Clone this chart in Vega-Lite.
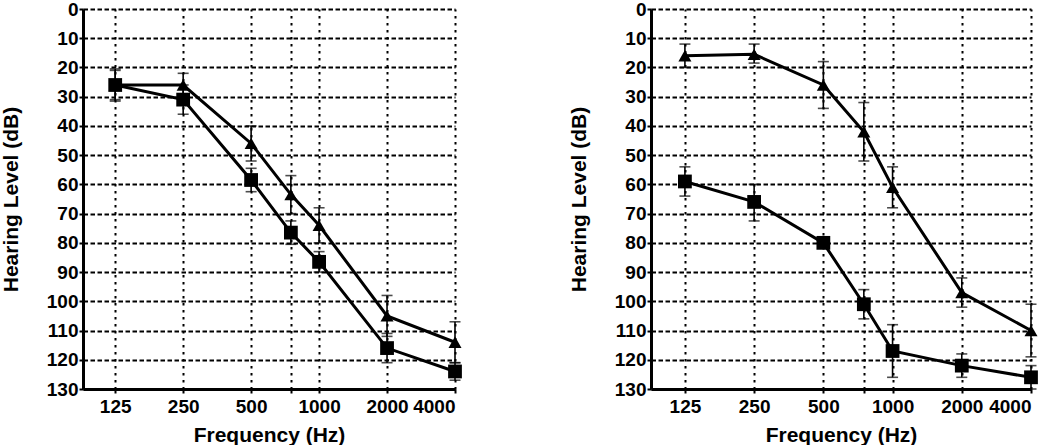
{
  "$schema": "https://vega.github.io/schema/vega-lite/v6.json",
  "padding": {"left": 0, "top": 0, "right": 0, "bottom": 0},
  "background": "white",
  "datasets": {
    "left": [
      {"series": "sq", "freq": 125, "hl": 26, "lo": 21, "hi": 31},
      {"series": "sq", "freq": 250, "hl": 31, "lo": 26, "hi": 36},
      {"series": "sq", "freq": 500, "hl": 58.5, "lo": 54.5, "hi": 62.5},
      {"series": "sq", "freq": 750, "hl": 76.5, "lo": 72.5, "hi": 80.5},
      {"series": "sq", "freq": 1000, "hl": 86.5, "lo": 83, "hi": 90},
      {"series": "sq", "freq": 2000, "hl": 116, "lo": 111, "hi": 121},
      {"series": "sq", "freq": 4000, "hl": 124, "lo": 121, "hi": 127},
      {"series": "tri", "freq": 125, "hl": 26, "lo": 20.5, "hi": 31.5},
      {"series": "tri", "freq": 250, "hl": 26, "lo": 22, "hi": 31},
      {"series": "tri", "freq": 500, "hl": 46, "lo": 40, "hi": 52},
      {"series": "tri", "freq": 750, "hl": 63.5, "lo": 57, "hi": 70},
      {"series": "tri", "freq": 1000, "hl": 74, "lo": 68, "hi": 80},
      {"series": "tri", "freq": 2000, "hl": 105, "lo": 98, "hi": 112},
      {"series": "tri", "freq": 4000, "hl": 114, "lo": 107, "hi": 121}
    ],
    "right": [
      {"series": "tri", "freq": 125, "hl": 16, "lo": 12, "hi": 20},
      {"series": "tri", "freq": 250, "hl": 15.5, "lo": 12, "hi": 18.5},
      {"series": "tri", "freq": 500, "hl": 26, "lo": 18, "hi": 34},
      {"series": "tri", "freq": 750, "hl": 42, "lo": 32, "hi": 52},
      {"series": "tri", "freq": 1000, "hl": 61, "lo": 54, "hi": 68},
      {"series": "tri", "freq": 2000, "hl": 97, "lo": 92, "hi": 102},
      {"series": "tri", "freq": 4000, "hl": 110, "lo": 101, "hi": 119},
      {"series": "sq", "freq": 125, "hl": 59, "lo": 54, "hi": 64},
      {"series": "sq", "freq": 250, "hl": 66, "lo": 60, "hi": 72.5},
      {"series": "sq", "freq": 500, "hl": 80, "lo": 79, "hi": 81},
      {"series": "sq", "freq": 750, "hl": 101, "lo": 96, "hi": 106},
      {"series": "sq", "freq": 1000, "hl": 117, "lo": 108, "hi": 126},
      {"series": "sq", "freq": 2000, "hl": 122, "lo": 118, "hi": 126},
      {"series": "sq", "freq": 4000, "hl": 126, "lo": 122, "hi": 130}
    ]
  },
  "config": {
    "view": {"stroke": null},
    "font": "Liberation Sans",
    "axis": {
      "labelFont": "Liberation Sans", "labelFontSize": 19, "labelFontWeight": "bold", "labelColor": "black",
      "titleFont": "Liberation Sans", "titleFontSize": 21, "titleFontWeight": "bold", "titleColor": "black",
      "domainColor": "black", "domainWidth": 3, "tickColor": "black", "tickWidth": 2, "tickSize": 4,
      "gridColor": "black", "gridOpacity": 1, "gridWidth": 2
    },
    "axisX": {"gridDash": [2.5, 4.5], "labelPadding": 4, "titlePadding": 8},
    "axisY": {"gridDash": [4.5, 2.5], "labelPadding": 1, "titlePadding": 25}
  },
  "spacing": 106,
  "hconcat": [
    {
      "width": 372, "height": 380,
      "data": {"name": "left"},
      "encoding": {
        "x": {"field": "freq", "type": "quantitative",
          "scale": {"type": "log", "domain": [90, 4000], "nice": false},
          "axis": {"values": [125, 250, 500, 750, 1000, 2000, 4000], "format": "d", "labelExpr": "datum.value == 750 ? '' : datum.label", "title": "Frequency (Hz)", "labelOverlap": false}},
        "y": {"field": "hl", "type": "quantitative",
          "scale": {"domain": [0, 130], "reverse": true, "nice": false, "zero": false},
          "axis": {"values": [0, 10, 20, 30, 40, 50, 60, 70, 80, 90, 100, 110, 120, 130], "title": "Hearing Level (dB)"}}
      },
      "layer": [
        {"mark": {"type": "line", "color": "black", "strokeWidth": 3}, "encoding": {"detail": {"field": "series"}}},
        {"mark": {"type": "errorbar", "thickness": 1.6, "color": "black", "ticks": {"size": 11, "color": "black"}},
          "encoding": {"y": {"field": "lo", "type": "quantitative", "title": "Hearing Level (dB)"}, "y2": {"field": "hi"}}},
        {"mark": {"type": "point", "filled": true, "color": "black", "opacity": 1},
          "encoding": {
            "shape": {"field": "series", "scale": {"domain": ["tri", "sq"], "range": ["triangle-up", "square"]}, "legend": null},
            "size": {"field": "series", "scale": {"domain": ["tri", "sq"], "range": [170, 190]}, "legend": null}}}
      ]
    },
    {
      "width": 380, "height": 380,
      "data": {"name": "right"},
      "encoding": {
        "x": {"field": "freq", "type": "quantitative",
          "scale": {"type": "log", "domain": [89, 4000], "nice": false},
          "axis": {"values": [125, 250, 500, 750, 1000, 2000, 4000], "format": "d", "labelExpr": "datum.value == 750 ? '' : datum.label", "title": "Frequency (Hz)", "labelOverlap": false}},
        "y": {"field": "hl", "type": "quantitative",
          "scale": {"domain": [0, 130], "reverse": true, "nice": false, "zero": false},
          "axis": {"values": [0, 10, 20, 30, 40, 50, 60, 70, 80, 90, 100, 110, 120, 130], "title": "Hearing Level (dB)"}}
      },
      "layer": [
        {"mark": {"type": "line", "color": "black", "strokeWidth": 3}, "encoding": {"detail": {"field": "series"}}},
        {"mark": {"type": "errorbar", "thickness": 1.6, "color": "black", "ticks": {"size": 11, "color": "black"}},
          "encoding": {"y": {"field": "lo", "type": "quantitative", "title": "Hearing Level (dB)"}, "y2": {"field": "hi"}}},
        {"mark": {"type": "point", "filled": true, "color": "black", "opacity": 1},
          "encoding": {
            "shape": {"field": "series", "scale": {"domain": ["tri", "sq"], "range": ["triangle-up", "square"]}, "legend": null},
            "size": {"field": "series", "scale": {"domain": ["tri", "sq"], "range": [170, 190]}, "legend": null}}}
      ]
    }
  ]
}
